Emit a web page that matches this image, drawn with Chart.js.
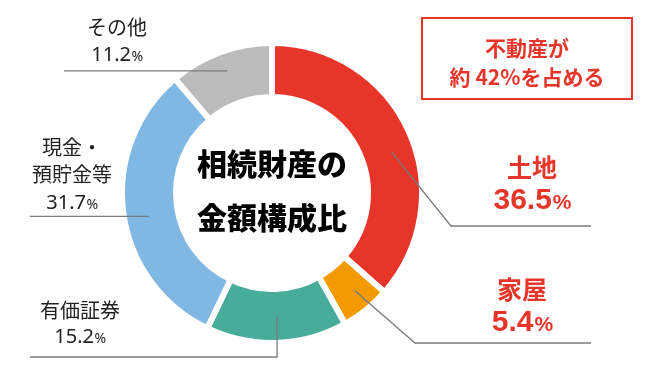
<!DOCTYPE html>
<html lang="ja">
<head>
<meta charset="utf-8">
<script src="https://cdn.jsdelivr.net/npm/chart.js@4.4.1/dist/chart.umd.min.js"></script>
<style>
  html, body { margin: 0; padding: 0; background: #fff; }
  #wrap { width: 650px; height: 389px; }
</style>
</head>
<body>
<div id="wrap"><canvas id="pie" width="650" height="389"></canvas></div>
<script>
// 相続財産の金額構成比（%）
const categories = ['土地', '家屋', '有価証券', '現金・預貯金等', 'その他'];
const labelLines = [['土地'], ['家屋'], ['有価証券'], ['現金・', '預貯金等'], ['その他']];
const shares = [36.5, 5.4, 15.2, 31.7, 11.2];
const colors = ['#e8352a', '#f39a00', '#47ad9a', '#81b8e3', '#babbba'];
const centerTitle = ['相続財産の', '金額構成比'];
const calloutLines = ['不動産が', '約 42%を占める'];

const JP = '"Noto Sans CJK JP", "Noto Sans", sans-serif';
const RED = '#e8352a';

// ラベル配置（テキスト中心と引き出し線）
const labelLayout = [
  { x: 532, y: 167, step: 31, big: true,  at: 0.54, t: 0.56, path: a => [[451, 226], [591, 226]] },
  { x: 522, y: 289, step: 31, big: true,  at: 0.43, t: 0.59, path: a => [[415, 343], [591, 343]] },
  { x: 80,  y: 310, step: 26, big: false, at: 0.49, t: 0.52, path: a => [[a.x, 357], [30, 357]] },
  { x: 72,  y: 147, step: 27.5, big: false, at: 0.47, t: 0.54, path: a => [[30, a.y]] },
  { x: 117, y: 27,  step: 26.5, big: false, at: 0.5, t: 0.63, path: a => [[64, a.y]] }
];

function drawValue(ctx, x, y, value, big) {
  const num = value.toFixed(1);
  const numFont = big ? 'bold 30px "Liberation Sans", Arial, sans-serif' : '20px "Noto Sans", sans-serif';
  const pctFont = big ? 'bold 21px "Liberation Sans", Arial, sans-serif' : '14px "Noto Sans", sans-serif';
  ctx.font = numFont;
  const w1 = ctx.measureText(num).width;
  ctx.font = pctFont;
  const w2 = ctx.measureText('%').width;
  const left = x - (w1 + w2) / 2;
  ctx.textAlign = 'left';
  ctx.textBaseline = 'alphabetic';
  const base = y + (big ? 11 : 7.5);
  ctx.font = numFont;
  ctx.fillText(num, left, base);
  ctx.font = pctFont;
  ctx.fillText('%', left + w1 + (big ? 1 : 0.5), base);
}

const labelPlugin = {
  id: 'labels',
  afterDraw(chart) {
    const ctx = chart.ctx;
    const arcs = chart.getDatasetMeta(0).data;
    ctx.save();

    // 引き出し線
    ctx.strokeStyle = '#7a7a7a';
    ctx.lineWidth = 1.3;
    arcs.forEach((arc, i) => {
      const L = labelLayout[i];
      const p = arc.getProps(['x', 'y', 'startAngle', 'endAngle', 'innerRadius', 'outerRadius'], true);
      const ang = p.startAngle + (p.endAngle - p.startAngle) * L.at;
      const r = p.innerRadius + (p.outerRadius - p.innerRadius) * L.t;
      const a = { x: p.x + Math.cos(ang) * r, y: p.y + Math.sin(ang) * r };
      ctx.beginPath();
      ctx.moveTo(a.x, a.y);
      L.path(a).forEach(pt => ctx.lineTo(pt[0], pt[1]));
      ctx.stroke();
    });

    // カテゴリ名と割合
    arcs.forEach((arc, i) => {
      const L = labelLayout[i];
      ctx.fillStyle = L.big ? RED : '#222';
      ctx.textAlign = 'center';
      ctx.textBaseline = 'middle';
      ctx.font = (L.big ? 'bold 25px ' : '20px ') + JP;
      labelLines[i].forEach((s, k) => ctx.fillText(s, L.x, L.y + k * L.step));
      drawValue(ctx, L.x, L.y + labelLines[i].length * L.step - (L.big ? 0 : 0.5), shares[i], L.big);
    });

    // 中央タイトル
    const c = arcs[0];
    ctx.fillStyle = '#000';
    ctx.textAlign = 'center';
    ctx.textBaseline = 'middle';
    ctx.font = '900 30px ' + JP;
    ctx.fillText(centerTitle[0], c.x, c.y - 29);
    ctx.fillText(centerTitle[1], c.x, c.y + 25);

    // 注記ボックス
    ctx.strokeStyle = RED;
    ctx.lineWidth = 2;
    ctx.strokeRect(422, 18, 210, 81);
    ctx.fillStyle = RED;
    ctx.font = 'bold 21px ' + JP;
    ctx.fillText(calloutLines[0], 527, 48);
    ctx.fillText(calloutLines[1], 527, 77);

    ctx.restore();
  }
};

new Chart(document.getElementById('pie'), {
  type: 'doughnut',
  data: {
    labels: categories,
    datasets: [{
      data: shares,
      backgroundColor: colors,
      borderColor: '#ffffff',
      borderWidth: 6,
      hoverOffset: 0
    }]
  },
  options: {
    responsive: false,
    devicePixelRatio: 1,
    animation: false,
    cutout: '64%',
    layout: { padding: { left: 119, right: 225, top: 40, bottom: 43 } },
    plugins: {
      legend: { display: false },
      tooltip: { enabled: false }
    }
  },
  plugins: [labelPlugin]
});
</script>
</body>
</html>
